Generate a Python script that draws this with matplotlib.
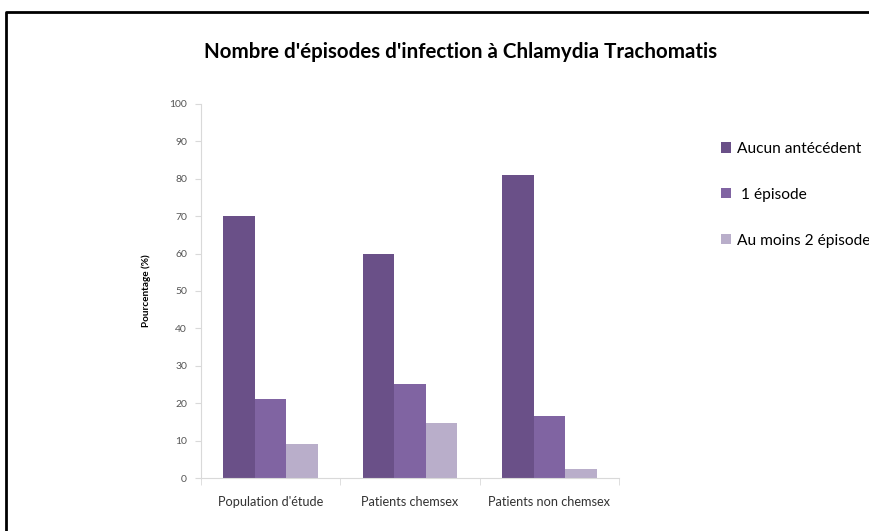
import matplotlib.pyplot as plt
import numpy as np
from matplotlib.lines import Line2D

plt.rcParams['font.family'] = ['Lato', 'DejaVu Sans']

# données
categories = ["Population d'étude", "Patients chemsex", "Patients non chemsex"]
series = ["Aucun antécédent", " 1 épisode", "Au moins 2 épisodes"]
aucun = [70, 60, 81]
un_episode = [21, 25, 16.7]
deux_plus = [9, 14.8, 2.5]
couleurs = ['#6a5088', '#8064a2', '#b9aeca']

fig = plt.figure(figsize=(8.7, 5.31), dpi=100)
ax = fig.add_axes([0.231, 0.0998, 0.4805, 0.7045])

x = np.arange(len(categories))
w = 0.226
for i, (vals, lab, c) in enumerate(zip([aucun, un_episode, deux_plus], series, couleurs)):
    ax.bar(x + (i - 1) * w, vals, width=w, color=c, label=lab)

ax.set_xlim(-0.5, 2.5)
ax.set_ylim(0, 100)
ax.set_yticks(range(0, 101, 10))
ax.set_xticks(x)
ax.set_xticklabels(categories, fontsize=9.2, color='#333333')
ax.set_xticks([-0.5, 0.5, 1.5, 2.5], minor=True)
ax.tick_params(axis='x', which='major', length=0, pad=13)
ax.tick_params(axis='x', which='minor', length=5, color='#d9d9d9')
ax.tick_params(axis='y', length=4, color='#d9d9d9', labelsize=7.5, labelcolor='#555555', pad=6)

for s in ['top', 'right']:
    ax.spines[s].set_visible(False)
for s in ['left', 'bottom']:
    ax.spines[s].set_color('#d9d9d9')

ax.set_ylabel('Pourcentage (%)', fontsize=7.2, fontweight='bold', labelpad=13)

fig.text(0.529, 0.903, "Nombre d'épisodes d'infection à Chlamydia Trachomatis",
         ha='center', va='center', fontsize=14.8, fontweight='bold')

fig.legend(loc='upper left', bbox_to_anchor=(0.829, 0.733), frameon=False,
           fontsize=11.2, handlelength=0.65, handleheight=0.65, handletextpad=0.35,
           labelspacing=2.05, borderpad=0, borderaxespad=0)

# cadre noir
fig.add_artist(Line2D([0.007, 0.007, 1.0], [0.0, 0.977, 0.977], color='black',
                      linewidth=2, transform=fig.transFigure))

fig.savefig('out.png', dpi=100)
